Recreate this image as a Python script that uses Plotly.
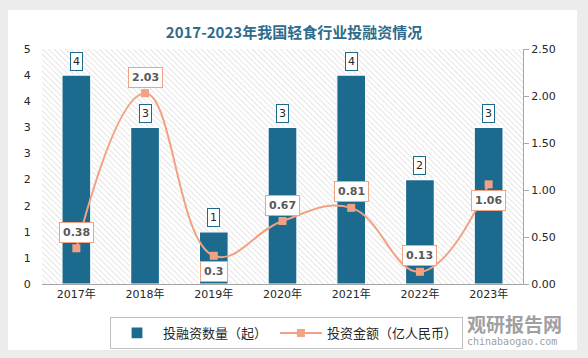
import base64
import plotly.graph_objects as go

years = ["2017年", "2018年", "2019年", "2020年", "2021年", "2022年", "2023年"]
deal_counts = [4, 3, 1, 3, 4, 2, 3]
amounts = [0.38, 2.03, 0.3, 0.67, 0.81, 0.13, 1.06]
amount_labels = ["0.38", "2.03", "0.3", "0.67", "0.81", "0.13", "1.06"]
amount_label_side = [1, 1, -1, 1, 1, 1, -1]
left_tickvals = [0, 0.5, 1, 1.5, 2, 2.5, 3, 3.5, 4, 4.5]
left_ticktext = ["0", "1", "1", "2", "2", "3", "3", "4", "4", "5"]

BAR = "#1c6a8d"
LINE = "#f0a283"
FONT = "DejaVu Sans, Noto Sans CJK SC"

# plot area in px: x 42..523, y 49..284
PL, PR, PT, PB = 42, 523, 49, 284
PW, PH = PR - PL, PB - PT


def px_x(v):
    return (v - PL) / PW


def px_y(v):
    return (PB - v) / PH


hatch_svg = ('<svg xmlns="http://www.w3.org/2000/svg" width="481" height="235" preserveAspectRatio="none">'
             '<defs><pattern id="p" width="4" height="4" patternUnits="userSpaceOnUse" patternTransform="rotate(-45)">'
             '<line x1="0" y1="0" x2="0" y2="4" stroke="#cccccc" stroke-width="1"/></pattern></defs>'
             '<rect width="100%" height="100%" fill="white"/><rect width="100%" height="100%" fill="url(#p)"/></svg>')
card_svg = ('<svg xmlns="http://www.w3.org/2000/svg" width="100" height="100" preserveAspectRatio="none">'
            '<rect width="100%" height="100%" fill="white"/></svg>')


def uri(s):
    return "data:image/svg+xml;base64," + base64.b64encode(s.encode()).decode()


fig = go.Figure()
fig.add_trace(go.Bar(
    x=years, y=deal_counts, name="投融资数量（起） ", width=0.42,
    marker=dict(color=BAR, line=dict(color="white", width=1.2)),
    yaxis="y",
))
fig.add_trace(go.Scatter(
    x=years, y=amounts, name="投资金额（亿人民币）", mode="lines+markers",
    line=dict(color=LINE, width=2, shape="spline", smoothing=1.2),
    marker=dict(symbol="square", size=8, color=LINE),
    yaxis="y2",
))

annotations = []
for x, v in zip(years, deal_counts):
    annotations.append(dict(x=x, y=v, xref="x", yref="y", text=str(v), showarrow=False,
                            yshift=14, bgcolor="white", bordercolor=BAR, borderwidth=1, borderpad=2,
                            font=dict(family=FONT, size=11, color="#262626")))
for x, v, t, s in zip(years, amounts, amount_labels, amount_label_side):
    annotations.append(dict(x=x, y=v, xref="x", yref="y2", text="<b>" + t + "</b>", showarrow=False,
                            yshift=16 * s, bgcolor="white", bordercolor=LINE, borderwidth=1, borderpad=3,
                            font=dict(family=FONT, size=11, color="#595959")))
annotations.append(dict(x=px_x(514), y=px_y(323), xref="paper", yref="paper", text="<b>观研报告网</b>",
                        showarrow=False, font=dict(family="Noto Sans CJK SC", size=19, color="#a0a0a0"),
                        xanchor="center", yanchor="middle"))
annotations.append(dict(x=px_x(512), y=px_y(341), xref="paper", yref="paper", text="chinabaogao.com",
                        showarrow=False, font=dict(family="DejaVu Sans Mono", size=10, color="#a0a0a0"),
                        xanchor="center", yanchor="middle"))

fig.update_layout(
    width=588, height=358,
    margin=dict(l=PL, r=588 - PR, t=PT, b=358 - PB, autoexpand=False),
    paper_bgcolor="#ececec",
    plot_bgcolor="rgba(0,0,0,0)",
    hovermode=False,
    title=dict(text="<b>2017-2023年我国轻食行业投融资情况</b>", x=0.5, xanchor="center",
               y=1 - 33 / 358, yanchor="middle",
               font=dict(family="Noto Sans CJK SC", size=15, color="#2f6b8c")),
    xaxis=dict(showgrid=False, showline=True, linecolor="#a6a6a6", linewidth=1, automargin=False,
               tickfont=dict(family=FONT, size=11, color="#262626"), ticks=""),
    yaxis=dict(range=[0, 4.5], tickvals=left_tickvals, ticktext=left_ticktext, showgrid=False,
               showline=False, zeroline=False, ticks="outside", ticklen=8, tickcolor="rgba(0,0,0,0)",
               automargin=False, tickfont=dict(family=FONT, size=11, color="#262626")),
    yaxis2=dict(range=[0, 2.5], dtick=0.5, tickformat=".2f", overlaying="y", side="right",
                showgrid=False, showline=True, linecolor="#a6a6a6", linewidth=1, zeroline=False,
                ticks="outside", ticklen=5, tickcolor="#a6a6a6", automargin=False,
                tickfont=dict(family=FONT, size=11, color="#262626")),
    legend=dict(orientation="h", x=px_x(110), y=px_y(317), xanchor="left", yanchor="top",
                bgcolor="white", bordercolor="#bfbfbf", borderwidth=1,
                font=dict(family="Noto Sans CJK SC", size=13, color="#262626"),
                itemwidth=42, tracegroupgap=0),
    showlegend=True,
    annotations=annotations,
    images=[
        dict(source=uri(card_svg), xref="paper", yref="paper", x=px_x(8), y=px_y(10),
             sizex=(577 - 8) / PW, sizey=(350 - 10) / PH, sizing="stretch", layer="below",
             xanchor="left", yanchor="top"),
        dict(source=uri(hatch_svg), xref="paper", yref="paper", x=0, y=1, sizex=1, sizey=1,
             sizing="stretch", layer="below", xanchor="left", yanchor="top"),
    ],
)

fig.write_html("out.html", config={"displayModeBar": False},
               post_script="document.body.style.margin='0';")
